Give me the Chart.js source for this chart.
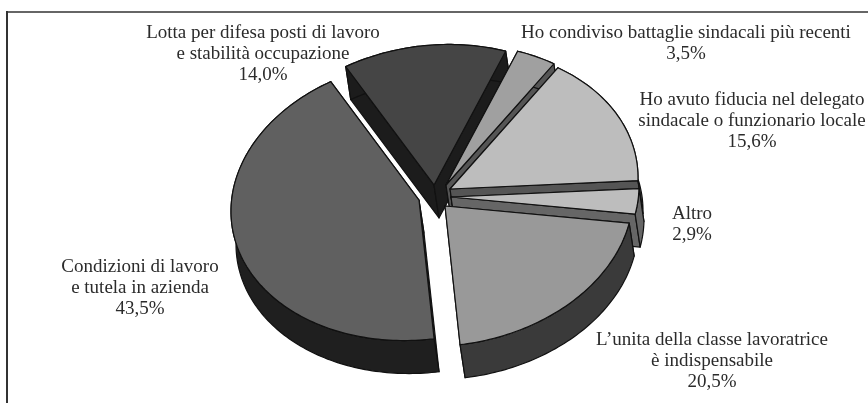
<!DOCTYPE html>
<html>
<head>
<meta charset="utf-8">
<style>
  body { margin: 0; background: #fff; }
  #wrap { position: relative; width: 868px; height: 403px; }
</style>
<script src="https://cdn.jsdelivr.net/npm/chart.js@4"></script>
</head>
<body>
<div id="wrap"><canvas id="pie" width="868" height="403"></canvas></div>
<script>
// values as printed on the chart, clockwise from the top
const categories = [
  "Lotta per difesa posti di lavoro e stabilità occupazione",
  "Ho condiviso battaglie sindacali più recenti",
  "Ho avuto fiducia nel delegato sindacale o funzionario locale",
  "Altro",
  "L’unita della classe lavoratrice è indispensabile",
  "Condizioni di lavoro e tutela in azienda",
];
const shares = [14.0, 3.5, 15.6, 2.9, 20.5, 43.5];
const labelLines = [
  ["Lotta per difesa posti di lavoro", "e stabilità occupazione"],
  ["Ho condiviso battaglie sindacali più recenti"],
  ["Ho avuto fiducia nel delegato", "sindacale o funzionario locale"],
  ["Altro"],
  ["L’unita della classe lavoratrice", "è indispensabile"],
  ["Condizioni di lavoro", "e tutela in azienda"],
];

// styles
const topColors = ["#454545", "#a0a0a0", "#bdbdbd", "#bdbdbd", "#999999", "#606060"];
const wallColors = ["#1c1c1c", "#555555", "#555555", "#666666", "#3a3a3a", "#1f1f1f"];
const sliceShift = [[-3, -13.7], [9, -12.7], [13, -7], [14, 3.8], [8, 15.4], [-18, 5.3]];
const labelPos = [[263, 38], [686, 38], [752, 105], [692, 219], [712, 345], [140, 272]];
const paintOrder = [0, 1, 2, 3, 5, 4]; // back to front

// squashed view of the pie
const center = { x: 437, y: 195 };
const squash = 0.745;
const shear = -0.06;
const depth = { x: 5, y: 33 };

const toScreen = (x, y) => [center.x + x, center.y + squash * y + shear * x];

function rimPoints(arc, ox, oy) {
  const pts = [];
  const steps = Math.ceil((arc.endAngle - arc.startAngle) / 0.02);
  for (let i = 0; i <= steps; i++) {
    const a = arc.startAngle + ((arc.endAngle - arc.startAngle) * i) / steps;
    pts.push(toScreen(ox + arc.outerRadius * Math.cos(a), oy + arc.outerRadius * Math.sin(a)));
  }
  return pts;
}

function poly(ctx, pts, fill) {
  ctx.beginPath();
  pts.forEach((p, i) => (i ? ctx.lineTo(p[0], p[1]) : ctx.moveTo(p[0], p[1])));
  ctx.closePath();
  if (fill) {
    ctx.fillStyle = fill;
    ctx.fill();
  }
  ctx.stroke();
}

const down = (p) => [p[0] + depth.x, p[1] + depth.y];

const pie3d = {
  id: "pie3d",
  beforeDatasetDraw(chart) {
    const ctx = chart.ctx;
    const arcs = chart.getDatasetMeta(0).data;
    paintOrder.forEach((i) => {
      const arc = arcs[i];
      const [ox, oy] = sliceShift[i];
      const apex = toScreen(ox, oy);
      const rim = rimPoints(arc, ox, oy);
      const first = rim[0];
      const last = rim[rim.length - 1];

      ctx.save();
      ctx.lineWidth = 1.2;
      ctx.lineJoin = "round";
      ctx.strokeStyle = "#111";
      // side walls first, the top face covers whatever faces away
      poly(ctx, [apex, first, down(first), down(apex)], wallColors[i]);
      poly(ctx, [apex, last, down(last), down(apex)], wallColors[i]);
      poly(ctx, rim.concat(rim.map(down).reverse()), wallColors[i]);

      // top face through the library's own arc
      ctx.save();
      ctx.transform(1, shear, 0, squash, center.x, center.y);
      ctx.translate(ox - arc.x, oy - arc.y);
      arc.draw(ctx);
      ctx.restore();
      poly(ctx, [apex].concat(rim));
      ctx.restore();
    });
    return false;
  },
  afterDraw(chart) {
    const ctx = chart.ctx;
    ctx.save();
    // frame: only the top and left lines are in the picture
    ctx.fillStyle = "#666";
    ctx.fillRect(6, 11, 862, 2);
    ctx.fillStyle = "#333";
    ctx.fillRect(6, 11, 2, 392);
    ctx.fillStyle = "#2b2b2b";
    ctx.font = '19px "Liberation Serif"';
    ctx.textAlign = "center";
    ctx.textBaseline = "alphabetic";
    labelLines.forEach((lines, i) => {
      const all = lines.concat(shares[i].toFixed(1).replace(".", ",") + "%");
      all.forEach((t, j) => ctx.fillText(t, labelPos[i][0], labelPos[i][1] + j * 21));
    });
    ctx.restore();
  },
};

new Chart(document.getElementById("pie"), {
  type: "pie",
  data: {
    labels: categories,
    datasets: [{ data: shares, backgroundColor: topColors, borderWidth: 0 }],
  },
  options: {
    responsive: false,
    animation: false,
    radius: 188,
    rotation: -28,
    plugins: { legend: { display: false }, tooltip: { enabled: false } },
  },
  plugins: [pie3d],
});
</script>
</body>
</html>
